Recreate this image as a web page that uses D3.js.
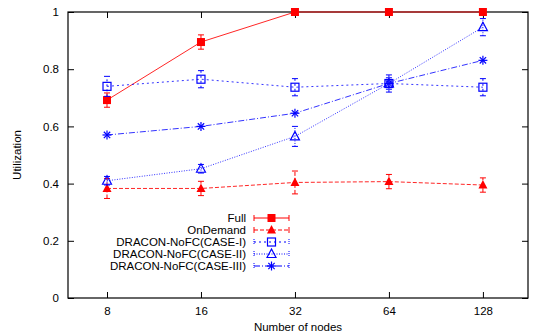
<!DOCTYPE html>
<html>
<head>
<meta charset="utf-8">
<script src="https://cdn.jsdelivr.net/npm/d3@7"></script>
<style>
  body { margin: 0; background: #fff; }
  text { font-family: "Liberation Sans", Arial, sans-serif; fill: #000; }
</style>
</head>
<body>
<div id="chart"></div>
<script>
// node counts on the x axis
const nodes = [8, 16, 32, 64, 128];
const yTicks = [0, 0.2, 0.4, 0.6, 0.8, 1];

const seriesNames = ['Full', 'OnDemand', 'DRACON-NoFC(CASE-I)', 'DRACON-NoFC(CASE-II)', 'DRACON-NoFC(CASE-III)'];
const fullVals = [0.692, 0.895, 1.0, 1.0, 1.0];
const fullErr = [0.025, 0.025, 0.0, 0.0, 0.0];
const onDemandVals = [0.383, 0.383, 0.404, 0.407, 0.395];
const onDemandErr = [0.035, 0.025, 0.04, 0.025, 0.025];
const case1Vals = [0.74, 0.765, 0.737, 0.75, 0.737];
const case1Err = [0.035, 0.03, 0.03, 0.03, 0.03];
const case2Vals = [0.41, 0.452, 0.565, 0.75, 0.947];
const case2Err = [0.015, 0.015, 0.035, 0.02, 0.03];
const case3Vals = [0.57, 0.6, 0.646, 0.75, 0.831];
const case3Err = [0.0, 0.0, 0.0, 0.0, 0.0];

const styles = [
  { color: '#ff0000', dash: null, marker: 'filledSquare' },
  { color: '#ff0000', dash: '4,2', marker: 'filledTriangle' },
  { color: '#0000ff', dash: '2,3', marker: 'openSquare' },
  { color: '#0000ff', dash: '1,1.5', marker: 'openTriangle' },
  { color: '#0000ff', dash: '6,2,1,2', marker: 'star' }
];

const series = [
  { vals: fullVals, err: fullErr },
  { vals: onDemandVals, err: onDemandErr },
  { vals: case1Vals, err: case1Err },
  { vals: case2Vals, err: case2Err },
  { vals: case3Vals, err: case3Err }
].map((s, i) => Object.assign(s, { name: seriesNames[i] }, styles[i]));

const W = 533, H = 335;
const margin = { top: 12, right: 5, bottom: 37, left: 68 };
const iw = W - margin.left - margin.right;
const ih = H - margin.top - margin.bottom;

const svg = d3.select('#chart').append('svg')
  .attr('width', W).attr('height', H);
const g = svg.append('g').attr('transform', `translate(${margin.left},${margin.top})`);

const x = d3.scaleLog().base(2).domain([6, 178.5]).range([0, iw]);
const y = d3.scaleLinear().domain([0, 1]).range([ih, 0]);

// axes, gnuplot style: ticks point inward, mirrored on the opposite side
const tick = 6;
g.append('g').call(d3.axisLeft(y).tickValues(yTicks).tickSize(-tick).tickPadding(9).tickFormat(d3.format('')))
  .call(a => a.select('.domain').remove());
g.append('g').attr('transform', `translate(${iw},0)`)
  .call(d3.axisRight(y).tickValues(yTicks).tickSize(-tick).tickFormat(''))
  .call(a => a.select('.domain').remove());
g.append('g').attr('transform', `translate(0,${ih})`)
  .call(d3.axisBottom(x).tickValues(nodes).tickSize(-tick).tickPadding(9).tickFormat(d3.format('d')))
  .call(a => a.select('.domain').remove());
g.append('g')
  .call(d3.axisTop(x).tickValues(nodes).tickSize(-tick).tickFormat(''))
  .call(a => a.select('.domain').remove());
g.selectAll('.tick text').style('font-size', '11.5px');
g.selectAll('.tick line').attr('stroke', '#000');

g.append('rect').attr('width', iw).attr('height', ih)
  .attr('fill', 'none').attr('stroke', '#000').attr('stroke-width', 1.2);

function drawMarker(sel, type, color, cx, cy) {
  const s = 4;
  if (type === 'filledSquare') {
    sel.append('rect').attr('x', cx - s).attr('y', cy - s).attr('width', 2 * s).attr('height', 2 * s).attr('fill', color);
  } else if (type === 'openSquare') {
    sel.append('rect').attr('x', cx - s).attr('y', cy - s).attr('width', 2 * s).attr('height', 2 * s)
      .attr('fill', 'none').attr('stroke', color).attr('stroke-width', 1.2);
  } else if (type === 'filledTriangle' || type === 'openTriangle') {
    const p = `${cx},${cy - s - 1} ${cx - s - 0.5},${cy + s - 0.5} ${cx + s + 0.5},${cy + s - 0.5}`;
    const t = sel.append('polygon').attr('points', p);
    if (type === 'filledTriangle') t.attr('fill', color);
    else t.attr('fill', 'none').attr('stroke', color).attr('stroke-width', 1.2);
  } else if (type === 'star') {
    const r = 4.5;
    [0, 45, 90, 135].forEach(a => {
      const rad = a * Math.PI / 180;
      sel.append('line')
        .attr('x1', cx - r * Math.cos(rad)).attr('y1', cy - r * Math.sin(rad))
        .attr('x2', cx + r * Math.cos(rad)).attr('y2', cy + r * Math.sin(rad))
        .attr('stroke', color).attr('stroke-width', 1.2);
    });
  }
}

const line = d3.line().x((d, i) => x(nodes[i])).y(d => y(d));

series.forEach(s => {
  const sg = g.append('g');
  sg.append('path').datum(s.vals).attr('d', line)
    .attr('fill', 'none').attr('stroke', s.color).attr('stroke-width', 1)
    .attr('stroke-opacity', s.color === '#0000ff' ? 0.8 : 0.85)
    .attr('stroke-dasharray', s.dash);
  s.vals.forEach((v, i) => {
    const e = s.err[i];
    if (e > 0) {
      const cx = x(nodes[i]);
      sg.append('line').attr('x1', cx).attr('x2', cx).attr('y1', y(v - e)).attr('y2', y(v + e))
        .attr('stroke', s.color).attr('stroke-dasharray', s.dash).attr('stroke-width', 1);
      [v - e, v + e].forEach(b => sg.append('line').attr('x1', cx - 3).attr('x2', cx + 3)
        .attr('y1', y(b)).attr('y2', y(b)).attr('stroke', s.color).attr('stroke-width', 1));
    }
    drawMarker(sg, s.marker, s.color, x(nodes[i]), y(v));
  });
});

// legend
const lg = svg.append('g');
series.forEach((s, i) => {
  const ly = 218 + i * 12;
  lg.append('text').attr('x', 246).attr('y', ly).attr('dy', '0.35em')
    .attr('text-anchor', 'end').style('font-size', '11.5px').text(s.name);
  lg.append('line').attr('x1', 254).attr('x2', 289).attr('y1', ly).attr('y2', ly)
    .attr('stroke', s.color).attr('stroke-dasharray', s.dash);
  if (s.marker === 'filledSquare' || s.marker === 'filledTriangle') {
    [254, 289].forEach(ex => lg.append('line').attr('x1', ex).attr('x2', ex)
      .attr('y1', ly - 3).attr('y2', ly + 3).attr('stroke', s.color));
  } else {
    [254, 289].forEach(ex => lg.append('line').attr('x1', ex).attr('x2', ex)
      .attr('y1', ly - 3).attr('y2', ly + 3).attr('stroke', s.color).attr('stroke-dasharray', '1,1'));
  }
  drawMarker(lg, s.marker, s.color, 271.5, ly);
});

// axis titles
svg.append('text').attr('transform', `translate(21,${margin.top + ih / 2}) rotate(-90)`)
  .attr('text-anchor', 'middle').style('font-size', '11.5px').text('Utilization');
svg.append('text').attr('x', 298).attr('y', 331)
  .attr('text-anchor', 'middle').style('font-size', '11.5px').text('Number of nodes');
</script>
</body>
</html>
